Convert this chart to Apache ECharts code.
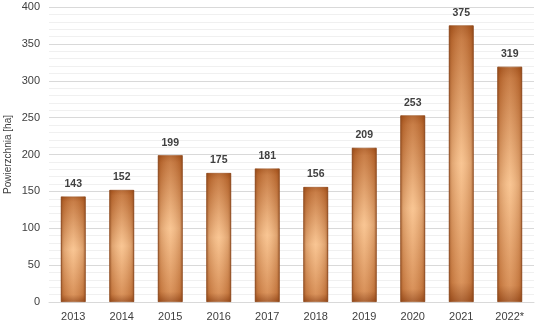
<!DOCTYPE html>
<html><head><meta charset="utf-8">
<script src="https://cdn.jsdelivr.net/npm/echarts@6/dist/echarts.min.js"></script>
<style>html,body{margin:0;padding:0;background:#fff}#c{width:543px;height:326px}</style>
</head><body><div id="c"></div>
<script>
const categories = ['2013','2014','2015','2016','2017','2018','2019','2020','2021','2022*'];
const values = [143,152,199,175,181,156,209,253,375,319];
const yTicks = {min:0, max:400, interval:50};
const yName = 'Powierzchnia [ha]';

const chart = echarts.init(document.getElementById('c'));
const vGrad = new echarts.graphic.LinearGradient(0,0,0,1,[
  {offset:0, color:'#a9561f'},
  {offset:0.05, color:'#c06f36'},
  {offset:0.5, color:'#f8c28e'},
  {offset:0.93, color:'#d3864c'},
  {offset:1, color:'#9c4f20'}
]);
const hGrad = new echarts.graphic.LinearGradient(0,0,1,0,[
  {offset:0, color:'rgba(120,55,15,0.6)'},
  {offset:0.12, color:'rgba(150,75,25,0.25)'},
  {offset:0.5, color:'rgba(255,220,180,0.15)'},
  {offset:0.88, color:'rgba(150,75,25,0.25)'},
  {offset:1, color:'rgba(120,55,15,0.6)'}
]);
chart.setOption({
  animation:false,
  grid:{left:49, right:9, top:7, bottom:24, containLabel:false, outerBoundsMode:'none'},
  xAxis:{type:'category', data:categories,
    axisLine:{lineStyle:{color:'#d9d9d9'}}, axisTick:{show:false},
    axisLabel:{color:'#404040', fontSize:11, fontFamily:'Liberation Sans, Arial', margin:9}},
  yAxis:{type:'value', min:yTicks.min, max:yTicks.max, interval:yTicks.interval,
    name:yName, nameLocation:'middle', nameGap:36, nameRotate:90, nameMoveOverlap:false,
    nameTextStyle:{color:'#404040', fontSize:10, fontFamily:'Liberation Sans, Arial'},
    axisLine:{show:false}, axisTick:{show:false},
    axisLabel:{color:'#404040', fontSize:11, fontFamily:'Liberation Sans, Arial', margin:9},
    splitLine:{lineStyle:{color:'#d9d9d9'}},
    minorTick:{show:false, splitNumber:5},
    minorSplitLine:{show:true, lineStyle:{color:'#f0f0f0'}}},
  series:[
    {type:'bar', data:values, barWidth:'51%',
     itemStyle:{color:vGrad, borderColor:'#9c5426', borderWidth:0.8},
     label:{show:true, position:'top', distance:7, color:'#404040', fontWeight:'bold', fontSize:10.5, fontFamily:'Liberation Sans, Arial'}},
    {type:'bar', data:values, barWidth:'51%', barGap:'-100%', silent:true,
     itemStyle:{color:hGrad}, z:3}
  ]
});
</script></body></html>
